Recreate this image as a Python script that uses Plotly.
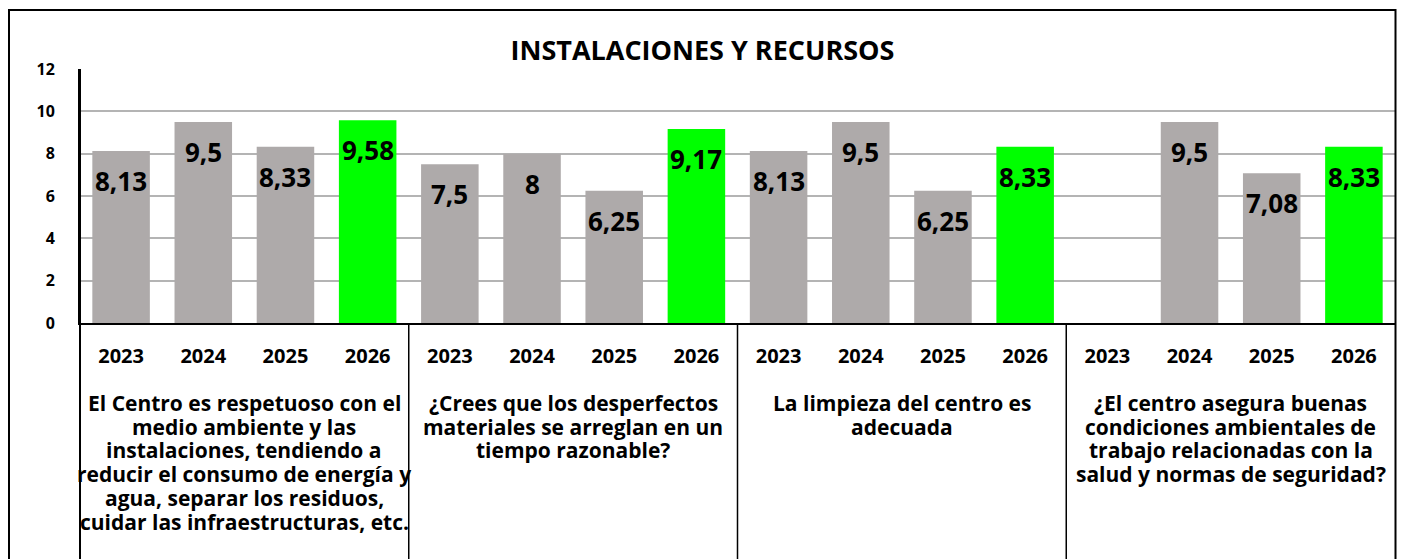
import plotly.graph_objects as go

title = "INSTALACIONES Y RECURSOS"
questions = [
    ["El Centro es respetuoso con el", "medio ambiente y las", "instalaciones, tendiendo a",
     "reducir el consumo de energía y", "agua, separar los residuos,",
     "cuidar las infraestructuras, etc."],
    ["¿Crees que los desperfectos", "materiales se arreglan en un", "tiempo razonable?"],
    ["La limpieza del centro es", "adecuada"],
    ["¿El centro asegura buenas", "condiciones ambientales de",
     "trabajo relacionadas con la", "salud y normas de seguridad?"],
]
years = ["2023", "2024", "2025", "2026"]
values = [
    [8.13, 9.5, 8.33, 9.58],
    [7.5, 8, 6.25, 9.17],
    [8.13, 9.5, 6.25, 8.33],
    [None, 9.5, 7.08, 8.33],
]
y_ticks = [0, 2, 4, 6, 8, 10, 12]

GRAY = "#AEAAAA"
GREEN = "#00FF00"
FONT = "Open Sans"

# page body has an 8px margin; size the figure to fill the rest of the window
W, H = 1397, 551
ML, MR, MT, MB = 72, 10, 61, 236
PW, PH = W - ML - MR, H - MT - MB

keys, ticktext, yv, colors = [], [], [], []
for gi, vals in enumerate(values):
    for yr, v in zip(years, vals):
        keys.append(f"Q{gi + 1} {yr}")
        ticktext.append(yr)
        yv.append(v)
        colors.append(GREEN if yr == "2026" else GRAY)

fig = go.Figure()
fig.add_trace(go.Bar(
    x=keys, y=yv,
    marker=dict(color=colors, line=dict(width=0)),
    hoverinfo="skip",
))

for k, v in zip(keys, yv):
    if v is None:
        continue
    fig.add_annotation(
        x=k, y=v, xref="x", yref="y",
        text=f"{v:g}".replace(".", ","),
        showarrow=False, yanchor="middle", yshift=-30,
        font=dict(family=FONT, size=26, color="black", weight="bold"),
    )

# group (question) labels centred under each group of years
n_years = len(years)
for gi, lines in enumerate(questions):
    xc = gi * n_years + (n_years - 1) / 2
    for li, line in enumerate(lines):
        fig.add_annotation(
            x=xc, y=0, xref="x", yref="paper",
            text=line, showarrow=False, yanchor="middle",
            yshift=-80 - 23.7 * li,
            font=dict(family=FONT, size=21, color="black", weight="bold"),
        )

# separators and left line extending to the bottom
n = len(questions)
for k in range(n):
    fig.add_shape(type="line", xref="paper", yref="paper",
                  x0=k / n, x1=k / n, y0=0 if k else 1, y1=-1.2,
                  line=dict(color="black", width=1.5 if k else 2))

# outer border
fig.add_shape(type="rect", xref="paper", yref="paper",
              x0=(1 - ML) / PW, x1=(1387.5 - ML) / PW,
              y0=-1.3, y1=1 + (MT - 2) / PH,
              line=dict(color="black", width=2), fillcolor="rgba(0,0,0,0)",
              layer="above")

fig.update_layout(
    width=W, height=H,
    margin=dict(l=ML, r=MR, t=MT, b=MB),
    paper_bgcolor="white", plot_bgcolor="white",
    showlegend=False,
    bargap=0.3,
    title=dict(text=title, x=(702.5 - 8) / W, xanchor="center", y=1 - 43 / H,
               yanchor="middle", yref="container",
               font=dict(family=FONT, size=27, color="black", weight="bold")),
    font=dict(family=FONT, color="black"),
)
fig.update_yaxes(
    range=[0, 12], tickvals=y_ticks, showgrid=True, automargin=False,
    gridcolor="#B4B4B4", gridwidth=1.5, zeroline=False,
    showline=True, linecolor="black", linewidth=2,
    ticks="", ticklabelstandoff=20,
    tickfont=dict(family=FONT, size=16, color="black", weight="bold"),
)
fig.update_xaxes(
    type="category", tickvals=keys, ticktext=ticktext, automargin=False,
    range=[-0.5, len(keys) - 0.5],
    showline=True, linecolor="black", linewidth=2,
    ticks="", ticklabelstandoff=14,
    tickfont=dict(family=FONT, size=20, color="black", weight="bold"),
)

fig.write_html("out.html")
